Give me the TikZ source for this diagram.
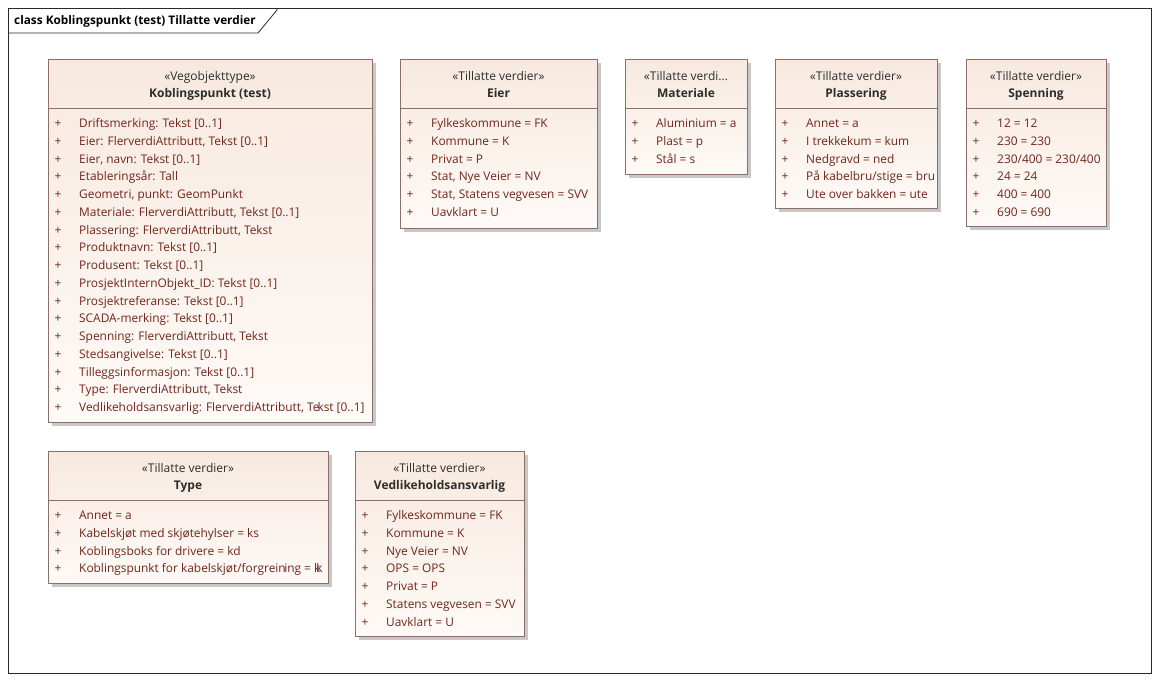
\documentclass[tikz,border=0pt]{standalone}
\usepackage{fontspec}
\setmainfont{Open Sans}
\begin{document}
\definecolor{frameline}{RGB}{40,40,40}
\definecolor{boxline}{RGB}{140,112,104}
\definecolor{boxtop}{RGB}{247,233,223}
\definecolor{boxbottom}{RGB}{254,250,247}
\definecolor{attrtext}{RGB}{112,38,28}
\definecolor{headtext}{RGB}{45,45,45}
\definecolor{shadowgray}{RGB}{200,200,200}
\tikzset{
  umlbox/.style={draw=boxline, line width=0.9pt, top color=boxtop, bottom color=boxbottom, inner sep=0pt},
  umlsep/.style={draw=boxline, line width=0.9pt},
  boxshadow/.style={fill=shadowgray},
  stereo/.style={text=headtext, font=\fontsize{12}{14}\selectfont, inner sep=0pt, anchor=base},
  ctitle/.style={text=headtext, font=\fontsize{12}{14}\selectfont\bfseries, inner sep=0pt, anchor=base},
  plussign/.style={text=attrtext, font=\fontsize{12}{14}\selectfont, inner sep=0pt, anchor=base},
  attr/.style={text=attrtext, font=\fontsize{11.9}{14}\selectfont, inner sep=0pt, anchor=base west},
  diaglabel/.style={text=black, font=\fontsize{11.8}{14}\selectfont\bfseries, inner sep=0pt, anchor=base west}
}
% class box: name, left, top, right, bottom, stereotype, title, attribute list
\newcommand{\classbox}[8]{%
  \pgfmathsetmacro\bxw{#4-#2}%
  \pgfmathsetmacro\bxh{#5-#3}%
  \fill[boxshadow] (#2+4,#3+4) rectangle (#4+4,#5+4);
  \node[umlbox, minimum width=\bxw pt, minimum height=\bxh pt, anchor=north west] (#1) at (#2,#3) {};
  \draw[umlsep] (#2,#3+49) -- (#4,#3+49);
  \node[stereo] (#1-stereo) at ({(#2+#4)/2},#3+21) {#6};
  \node[ctitle] (#1-name) at ({(#2+#4)/2},#3+38) {#7};
  \foreach \a [count=\i] in {#8} {
    \node[plussign] (#1-p\i) at (#2+10,{#3+68.5+(\i-1)*17.75}) {+};
    \node[attr] (#1-a\i) at (#2+31,{#3+68.5+(\i-1)*17.75}) {\a};
  }%
}
\begin{tikzpicture}[x=1pt,y=-1pt]
\useasboundingbox (0,0) rectangle (1159,681);
\fill[white] (0,0) rectangle (1159,681);
% diagram frame with its name tab
\draw[frameline, line width=0.8pt] (8,8) rectangle (1151,673);
\draw[frameline, line width=0.8pt] (8,33) -- (258,33) -- (277,10) -- (277,8);
\node[diaglabel] (framelabel) at (14,24.5) {class Koblingspunkt (test) Tillatte verdier};

\classbox{kp}{48}{59}{372}{422}{«Vegobjekttype»}{Koblingspunkt (test)}{
  {Driftsmerking: Tekst [0..1]},
  {Eier: FlerverdiAttributt, Tekst [0..1]},
  {Eier, navn: Tekst [0..1]},
  {Etableringsår: Tall},
  {Geometri, punkt: GeomPunkt},
  {Materiale: FlerverdiAttributt, Tekst [0..1]},
  {Plassering: FlerverdiAttributt, Tekst},
  {Produktnavn: Tekst [0..1]},
  {Produsent: Tekst [0..1]},
  {ProsjektInternObjekt\_ID: Tekst [0..1]},
  {Prosjektreferanse: Tekst [0..1]},
  {SCADA-merking: Tekst [0..1]},
  {Spenning: FlerverdiAttributt, Tekst},
  {Stedsangivelse: Tekst [0..1]},
  {Tilleggsinformasjon: Tekst [0..1]},
  {Type: FlerverdiAttributt, Tekst},
  {Vedlikeholdsansvarlig: FlerverdiAttributt, Te\kern-2pt kst [0..1]}}

\classbox{eier}{400}{59}{597}{228}{«Tillatte verdier»}{Eier}{
  {Fylkeskommune = FK},
  {Kommune = K},
  {Privat = P},
  {Stat, Nye Veier = NV},
  {Stat, Statens vegvesen = SVV},
  {Uavklart = U}}

\classbox{mat}{625}{59}{747}{174}{«Tillatte verdi...}{Materiale}{
  {Aluminium = a},
  {Plast = p},
  {Stål = s}}

\classbox{plass}{775}{59}{937}{208}{«Tillatte verdier»}{Plassering}{
  {Annet = a},
  {I trekkekum = kum},
  {Nedgravd = ned},
  {På kabelbru/stige = bru},
  {Ute over bakken = ute}}

\classbox{spenn}{966}{59}{1106}{226}{«Tillatte verdier»}{Spenning}{
  {12 = 12},
  {230 = 230},
  {230/400 = 230/400},
  {24 = 24},
  {400 = 400},
  {690 = 690}}

\classbox{type}{48}{451}{328}{583}{«Tillatte verdier»}{Type}{
  {Annet = a},
  {Kabelskjøt med skjøtehylser = ks},
  {Koblingsboks for drivere = kd},
  {Koblingspunkt for kabelskjøt/forgrein\kern-1.5pt ing = k\kern-4pt k}}

\classbox{vedl}{355}{451}{524}{636}{«Tillatte verdier»}{Vedlikeholdsansvarlig}{
  {Fylkeskommune = FK},
  {Kommune = K},
  {Nye Veier = NV},
  {OPS = OPS},
  {Privat = P},
  {Statens vegvesen = SVV},
  {Uavklart = U}}
\end{tikzpicture}
\end{document}
